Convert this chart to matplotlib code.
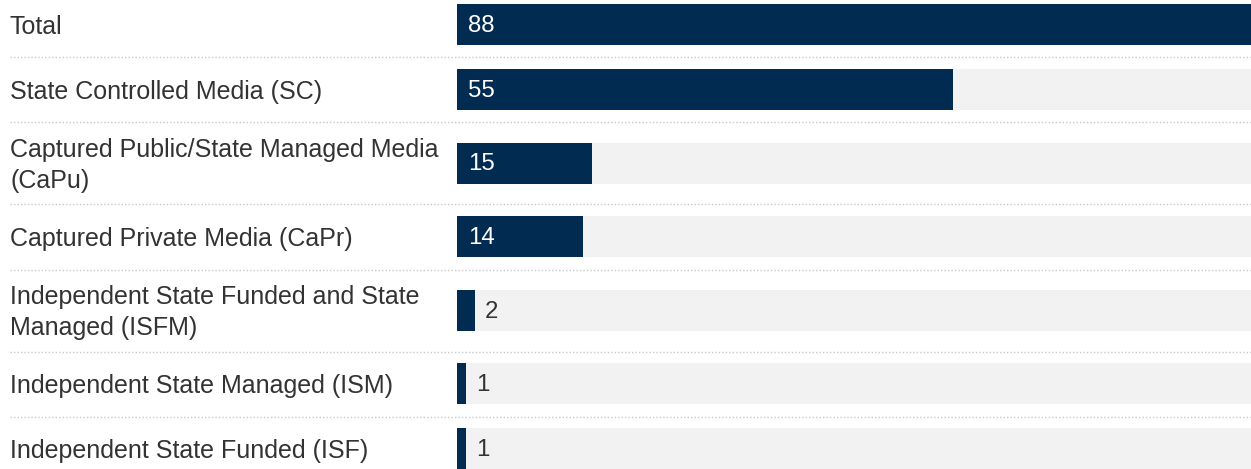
import matplotlib
matplotlib.use("Agg")
import matplotlib.pyplot as plt
from matplotlib.lines import Line2D

plt.rcParams["font.family"] = ["Liberation Sans", "DejaVu Sans"]

categories = [
    "Total",
    "State Controlled Media (SC)",
    "Captured Public/State Managed Media\n(CaPu)",
    "Captured Private Media (CaPr)",
    "Independent State Funded and State\nManaged (ISFM)",
    "Independent State Managed (ISM)",
    "Independent State Funded (ISF)",
]
values = [88, 55, 15, 14, 2, 1, 1]

BAR_COLOR = "#012b51"
TRACK_COLOR = "#f2f2f2"
TEXT_COLOR = "#333333"
RULE_COLOR = "#c8c8c8"

W, H, DPI = 1251, 469, 100
FS = 25 * 72 / DPI   # 25 px category text
VFS = 24 * 72 / DPI  # 24 px value text

fig = plt.figure(figsize=(W / DPI, H / DPI), dpi=DPI)
fig.patch.set_facecolor("white")

bar_left = 457
ax = fig.add_axes([bar_left / W, 0, (W - bar_left) / W, 1])
ax.set_axis_off()

# row layout (pixels): taller rows for two-line labels
row_h = [82 if "\n" in c else 65 for c in categories]
top = -7.5
centers, bounds = [], []
y = top
for h in row_h:
    centers.append(y + h / 2)
    y += h
    bounds.append(y)

ax.set_ylim(H, 0)
xmax = max(values)
ax.set_xlim(0, xmax)

bar_h = 41
ax.barh(centers, [xmax] * len(values), height=bar_h, color=TRACK_COLOR, zorder=1)
ax.barh(centers, values, height=bar_h, color=BAR_COLOR, zorder=2)

for c, v in zip(centers, values):
    if v >= 10:
        ax.annotate(str(v), (0, c), xytext=(11, -1), textcoords="offset pixels",
                    ha="left", va="center", color="white", fontsize=VFS, zorder=3)
    else:
        ax.annotate(str(v), (v, c), xytext=(10, -1), textcoords="offset pixels",
                    ha="left", va="center", color=TEXT_COLOR, fontsize=VFS, zorder=3)

# category labels on the left, in figure pixel coordinates
for c, label in zip(centers, categories):
    fig.text(10 / W, 1 - (c + 2) / H, label, ha="left", va="center", color=TEXT_COLOR,
             fontsize=FS, linespacing=1.32)

# dotted row separators
for b in bounds[:-1]:
    yy = 1 - b / H
    fig.add_artist(Line2D([10 / W, 1], [yy, yy], transform=fig.transFigure,
                          color=RULE_COLOR, lw=1, linestyle=(0, (1, 1.5))))

fig.savefig("out.png", dpi=DPI, facecolor="white")
